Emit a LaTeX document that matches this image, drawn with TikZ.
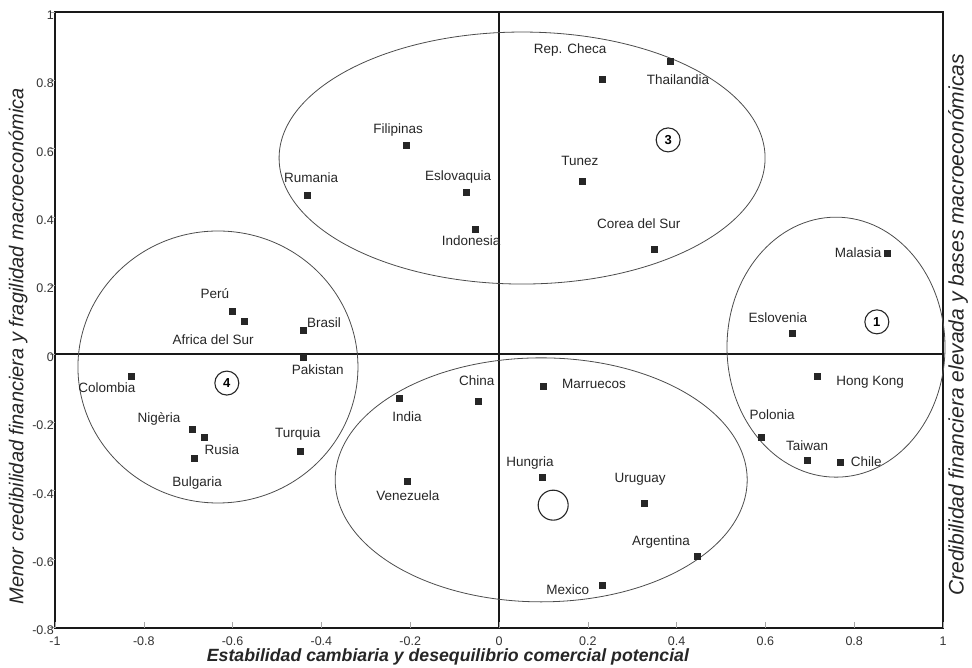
\documentclass[tikz,border=0pt]{standalone}
\usepackage{fontspec}
\setmainfont{Liberation Sans}
\begin{document}
\begin{tikzpicture}[
  mk/.style={rectangle, fill=black!85, minimum size=7pt, inner sep=0pt},
  lab/.style={font=\fontsize{13.5}{15}\selectfont, inner sep=0pt, text=black!85},
  grp/.style={draw=black!85, line width=1.1pt, circle, minimum size=24pt, inner sep=0pt, font=\fontsize{13}{15}\selectfont\bfseries},
  clus/.style={draw=black!70, line width=0.8pt},
  frm/.style={line width=1.8pt, draw=black!90},
  tk/.style={draw=black!35, line width=0.6pt},
  tklab/.style={font=\fontsize{12.5}{14}\selectfont, text=black!80, inner sep=0pt},
  ttl/.style={font=\fontsize{20}{22}\selectfont\itshape, text=black!85, inner sep=0pt},
]
\useasboundingbox (0pt,0pt) rectangle (972pt,-668pt);
\begin{scope}[shift={(499pt,-354pt)}, x=444pt, y=342pt]
% frame and axes
\coordinate (ll) at (-1,-0.8);
\coordinate (ur) at (1,1);
\coordinate (xl) at (-1,0);
\coordinate (xr) at (1,0);
\coordinate (yb) at (0,-0.8);
\coordinate (yt) at (0,1);
\draw[frm] (ll) rectangle (ur);
\draw[frm] (xl) -- (xr);
\draw[frm] (yb) -- (yt);
% ticks
\foreach \v/\t in {1/1,0.8/0.8,0.6/0.6,0.4/0.4,0.2/0.2,0/0,-0.2/-0.2,-0.4/-0.4,-0.6/-0.6,-0.8/-0.8}{
  \draw[tk] (-1,\v) -- ++(-5pt,0);
  \node[tklab, anchor=east] at ([xshift=-1pt,yshift=-3pt]-1,\v) {\t};
}
\foreach \v/\t in {-1/-1,-0.8/-0.8,-0.6/-0.6,-0.4/-0.4,-0.2/-0.2,0/0,0.2/0.2,0.4/0.4,0.6/0.6,0.8/0.8,1/1}{
  \draw[tk] (\v,-0.8) -- ++(0,6pt);
  \node[tklab, anchor=north] at ([yshift=-9pt]\v,-0.8) {\t};
}
% clusters
\draw[clus] (0.052,0.573) ellipse [x radius=243pt, y radius=126pt];
\draw[clus] (-0.633,-0.038) ellipse [x radius=140pt, y radius=136pt];
\draw[clus] (0.759,0.020) ellipse [x radius=109pt, y radius=130pt];
\draw[clus] (0.095,-0.368) ellipse [x radius=206pt, y radius=122pt];
% group numbers
\node[grp] (g3) at (0.381,0.626) {3};
\node[grp] (g1) at (0.851,0.094) {1};
\node[grp] (g4) at (-0.613,-0.085) {4};
\node[grp, minimum size=30pt] (g2) at (0.122,-0.442) {};
% markers
\node[mk] (checa) at (0.234,0.804) {};
\node[mk] (thai) at (0.387,0.854) {};
\node[mk] (filip) at (-0.209,0.611) {};
\node[mk] (ruman) at (-0.432,0.462) {};
\node[mk] (eslovaq) at (-0.074,0.471) {};
\node[mk] (indon) at (-0.054,0.365) {};
\node[mk] (tunez) at (0.189,0.503) {};
\node[mk] (corea) at (0.351,0.307) {};
\node[mk] (malasia) at (0.874,0.295) {};
\node[mk] (eslovenia) at (0.660,0.061) {};
\node[mk] (hk) at (0.718,-0.067) {};
\node[mk] (polonia) at (0.592,-0.243) {};
\node[mk] (taiwan) at (0.694,-0.310) {};
\node[mk] (chile) at (0.768,-0.316) {};
\node[mk] (peru) at (-0.601,0.123) {};
\node[mk] (africa) at (-0.574,0.094) {};
\node[mk] (brasil) at (-0.441,0.070) {};
\node[mk] (pakistan) at (-0.441,-0.009) {};
\node[mk] (colombia) at (-0.827,-0.067) {};
\node[mk] (nigeria) at (-0.691,-0.222) {};
\node[mk] (rusia) at (-0.664,-0.243) {};
\node[mk] (bulgaria) at (-0.685,-0.307) {};
\node[mk] (turquia) at (-0.446,-0.284) {};
\node[mk] (china) at (-0.047,-0.140) {};
\node[mk] (marruecos) at (0.101,-0.096) {};
\node[mk] (india) at (-0.223,-0.129) {};
\node[mk] (venezuela) at (-0.207,-0.374) {};
\node[mk] (hungria) at (0.097,-0.360) {};
\node[mk] (uruguay) at (0.327,-0.436) {};
\node[mk] (argentina) at (0.448,-0.591) {};
\node[mk] (mexico) at (0.232,-0.678) {};
% labels
\node[lab] (l-checa) at (0.160,0.889) {Rep. Checa};
\node[lab] (l-thai) at (0.403,0.801) {Thailandia};
\node[lab] (l-filip) at (-0.227,0.655) {Filipinas};
\node[lab] (l-ruman) at (-0.423,0.515) {Rumania};
\node[lab] (l-eslovaq) at (-0.092,0.518) {Eslovaquia};
\node[lab] (l-indon) at (-0.063,0.330) {Indonesia};
\node[lab] (l-tunez) at (0.182,0.564) {Tunez};
\node[lab] (l-corea) at (0.315,0.380) {Corea del Sur};
\node[lab] (l-malasia) at (0.809,0.295) {Malasia};
\node[lab] (l-eslovenia) at (0.628,0.105) {Eslovenia};
\node[lab] (l-hk) at (0.836,-0.082) {Hong Kong};
\node[lab] (l-polonia) at (0.615,-0.178) {Polonia};
\node[lab] (l-taiwan) at (0.694,-0.269) {Taiwan};
\node[lab] (l-chile) at (0.827,-0.316) {Chile};
\node[lab] (l-peru) at (-0.640,0.178) {Perú};
\node[lab] (l-africa) at (-0.644,0.041) {Africa del Sur};
\node[lab] (l-brasil) at (-0.394,0.091) {Brasil};
\node[lab] (l-pakistan) at (-0.408,-0.047) {Pakistan};
\node[lab] (l-colombia) at (-0.883,-0.099) {Colombia};
\node[lab] (l-nigeria) at (-0.766,-0.190) {Nigèria};
\node[lab] (l-rusia) at (-0.624,-0.281) {Rusia};
\node[lab] (l-bulgaria) at (-0.680,-0.377) {Bulgaria};
\node[lab] (l-turquia) at (-0.453,-0.234) {Turquia};
\node[lab] (l-china) at (-0.050,-0.079) {China};
\node[lab] (l-marruecos) at (0.214,-0.088) {Marruecos};
\node[lab] (l-india) at (-0.207,-0.184) {India};
\node[lab] (l-venezuela) at (-0.205,-0.415) {Venezuela};
\node[lab] (l-hungria) at (0.070,-0.319) {Hungria};
\node[lab] (l-uruguay) at (0.318,-0.365) {Uruguay};
\node[lab] (l-argentina) at (0.365,-0.550) {Argentina};
\node[lab] (l-mexico) at (0.155,-0.690) {Mexico};
% axis titles
\node[ttl, rotate=90] (ytitle) at (-1.083,0.023) {Menor credibilidad financiera y fragilidad macroeconómica};
\node[ttl, rotate=90, font=\fontsize{21}{23}\selectfont\itshape] (ytitle2) at (1.034,0.085) {Credibilidad financiera elevada y bases macroeconómicas};
\node[inner sep=0pt, text=black!85, font=\fontsize{17.7}{20}\selectfont\bfseries\itshape] (xtitle) at (-0.115,-0.886) {Estabilidad cambiaria y desequilibrio comercial potencial};
\end{scope}
\end{tikzpicture}
\end{document}
